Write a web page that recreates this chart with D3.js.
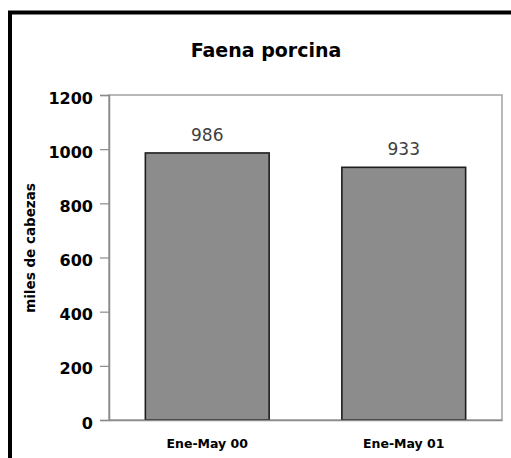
<!DOCTYPE html>
<html>
<head>
<meta charset="utf-8">
<script src="https://cdn.jsdelivr.net/npm/d3@7"></script>
<style>
  html, body { margin: 0; padding: 0; background: #fff; }
  svg { display: block; }
</style>
</head>
<body>
<svg id="chart" width="511" height="458"></svg>
<script>
// Faena porcina, miles de cabezas
const categories = ["Ene-May 00", "Ene-May 01"];
const values = [986, 933];
const yTicks = [0, 200, 400, 600, 800, 1000, 1200];

const svg = d3.select("#chart");
const W = 511, H = 458;
const plot = { left: 109, right: 502, top: 95, bottom: 420 };

// outer frame (left and top edges)
svg.append("path")
  .attr("d", `M10,${H} L10,12.5 L${W},12.5`)
  .attr("fill", "none")
  .attr("stroke", "#000")
  .attr("stroke-width", 4);

// title
svg.append("text")
  .attr("x", 266).attr("y", 57)
  .attr("text-anchor", "middle")
  .attr("font-family", "DejaVu Sans")
  .attr("font-weight", "bold")
  .attr("font-size", 19)
  .attr("fill", "#000")
  .text("Faena porcina");

const x = d3.scaleBand()
  .domain(categories)
  .range([plot.left, plot.right])
  .paddingInner(0.37)
  .paddingOuter(0.185);

const y = d3.scaleLinear()
  .domain([0, 1200])
  .range([plot.bottom, plot.top]);

// plot area frame
svg.append("rect")
  .attr("x", plot.left).attr("y", plot.top)
  .attr("width", plot.right - plot.left)
  .attr("height", plot.bottom - plot.top)
  .attr("fill", "#fff")
  .attr("stroke", "#a2a2a2")
  .attr("stroke-width", 1.5);

// bars
svg.append("g").selectAll("rect")
  .data(values)
  .join("rect")
  .attr("x", (d, i) => x(categories[i]))
  .attr("y", d => y(d))
  .attr("width", x.bandwidth())
  .attr("height", d => y(0) - y(d))
  .attr("fill", "#8c8c8c")
  .attr("stroke", "#1e1e1e")
  .attr("stroke-width", 1.6);

// value labels
svg.append("g").selectAll("text")
  .data(values)
  .join("text")
  .attr("x", (d, i) => x(categories[i]) + x.bandwidth() / 2)
  .attr("y", d => y(d) - 12)
  .attr("text-anchor", "middle")
  .attr("font-family", "DejaVu Sans")
  .attr("font-size", 17)
  .attr("fill", "#404040")
  .text(d => d);

// y axis
const yAxis = svg.append("g")
  .attr("transform", `translate(${plot.left},0)`)
  .call(d3.axisLeft(y).tickValues(yTicks).tickSize(9).tickPadding(7).tickFormat(d3.format("d")));
yAxis.select(".domain").attr("stroke", "#8a8a8a").attr("stroke-width", 1.5);
yAxis.selectAll(".tick line").attr("stroke", "#8a8a8a").attr("stroke-width", 1.2);
yAxis.selectAll(".tick text")
  .attr("dy", "0.5em")
  .attr("font-family", "DejaVu Sans")
  .attr("font-weight", "bold")
  .attr("font-size", 16)
  .attr("fill", "#000");

// x axis
const xAxis = svg.append("g")
  .attr("transform", `translate(0,${plot.bottom})`)
  .call(d3.axisBottom(x).tickSize(0).tickPadding(19));
xAxis.select(".domain").attr("stroke", "#8a8a8a").attr("stroke-width", 1.5);
xAxis.selectAll(".tick text")
  .attr("font-family", "DejaVu Sans")
  .attr("font-weight", "bold")
  .attr("font-size", 12.5)
  .attr("fill", "#000");

// y axis title
svg.append("text")
  .attr("transform", "translate(35,248) rotate(-90)")
  .attr("text-anchor", "middle")
  .attr("font-family", "DejaVu Sans")
  .attr("font-weight", "bold")
  .attr("font-size", 13.5)
  .attr("fill", "#000")
  .text("miles de cabezas");
</script>
</body>
</html>
